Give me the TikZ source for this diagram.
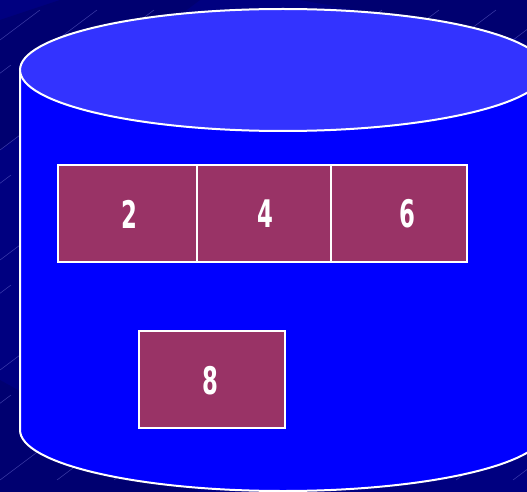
\documentclass[tikz,border=0pt]{standalone}
\usepackage{fontspec}
\newfontfamily\digitfont[FakeStretch=0.6]{DejaVu Sans}
\definecolor{bgnavy}{HTML}{000080}
\definecolor{bgdark}{HTML}{000070}
\definecolor{bgline}{HTML}{6A6ACF}
\definecolor{topblue}{HTML}{3333FF}
\definecolor{bodyblue}{HTML}{0000FF}
\definecolor{cellfill}{HTML}{993366}
\tikzset{
  cell/.style={draw=white, line width=1.5pt, fill=cellfill},
  digit/.style={text=white, font=\digitfont\bfseries\fontsize{38}{40}\selectfont, inner sep=0pt},
  rim/.style={draw=white, line width=2pt},
  bgstroke/.style={draw=bgline, line width=0.5pt, opacity=0.6}
}
\begin{document}
\begin{tikzpicture}[x=1pt,y=-1pt]
\useasboundingbox (0,0) rectangle (527,492);
\begin{scope}
\clip (0,0) rectangle (527,492);
% background
\fill[bgnavy] (0,0) rectangle (527,492);
\fill[bgdark] (0,20) -- (60,0) -- (200,0) -- (0,150) -- cycle;
\fill[bgdark] (0,380) -- (200,492) -- (0,492) -- cycle;
\fill[bgdark] (300,0) -- (527,0) -- (527,40) -- cycle;
\foreach \r in {0,...,9}{
  \foreach \c in {-2,...,9}{
    \draw[bgstroke] ({\c*57+mod(\r,2)*28}, {\r*55+40}) -- ++(40,-30);
  }
}
% cylinder body
\path[rim, fill=bodyblue] (20,70) -- (20,430)
  arc[start angle=180, end angle=360, x radius=263, y radius=-61]
  -- (546,70) -- cycle;
% top ellipse
\path[rim, fill=topblue] (283,70) ellipse [x radius=263, y radius=61];
\end{scope}
% cells
\node[cell, minimum width=139pt, minimum height=97pt, inner sep=0pt, anchor=north west] (c2) at (57,164) {};
\node[cell, minimum width=134pt, minimum height=97pt, inner sep=0pt, anchor=north west] (c4) at (196,164) {};
\node[cell, minimum width=136pt, minimum height=97pt, inner sep=0pt, anchor=north west] (c6) at (330,164) {};
\node[cell, minimum width=146pt, minimum height=97pt, inner sep=0pt, anchor=north west] (c8) at (138,330) {};
\node[digit] (t2) at (129,214) {2};
\node[digit] (t4) at (265,214) {4};
\node[digit] (t6) at (407,214) {6};
\node[digit] (t8) at (210,381) {8};
\end{tikzpicture}
\end{document}
